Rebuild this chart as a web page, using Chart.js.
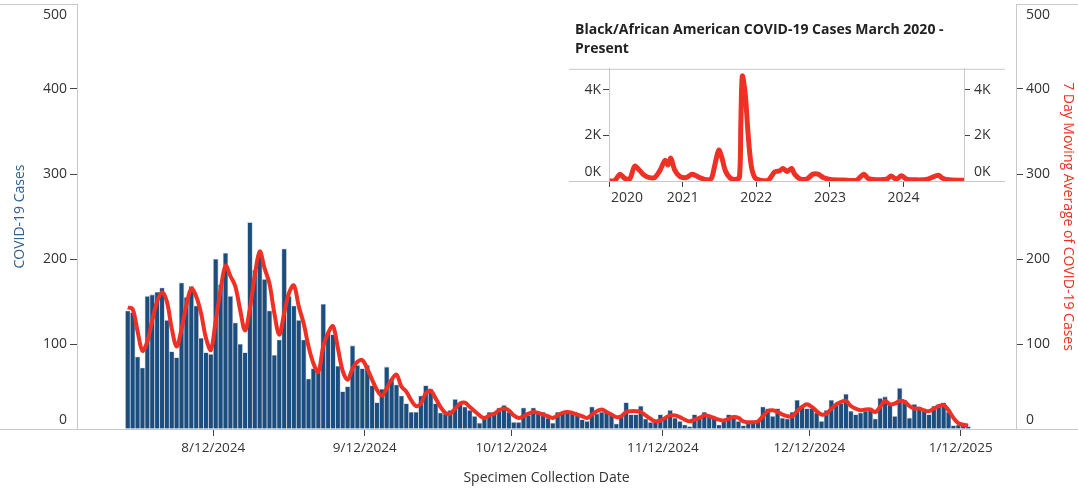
<!DOCTYPE html>
<html>
<head>
<meta charset="utf-8">
<script src="https://cdn.jsdelivr.net/npm/chart.js@4.4.1/dist/chart.umd.min.js"></script>
<style>
  body { margin: 0; background: #fff; }
  #wrap { position: relative; width: 1078px; height: 489px; overflow: hidden; }
  #mainChart { position: absolute; left: 0; top: 0; }
  #insetChart { position: absolute; left: 565px; top: 14px; }
</style>
</head>
<body>
<div id="wrap">
  <canvas id="mainChart" width="1078" height="489"></canvas>
  <canvas id="insetChart" width="445" height="200"></canvas>
</div>
<script>
// ---------- DATA ----------

// first bar = 7/25/2024, one value per day through 1/13/2025
const firstDay = '7/25/2024';
const tickDates = ['8/12/2024', '9/12/2024', '10/12/2024', '11/12/2024', '12/12/2024', '1/12/2025'];

const dailyCases = [139, 137, 85, 72, 156, 158, 161, 166, 128, 91,
  84, 172, 155, 168, 145, 107, 90, 88, 200, 170,
  207, 156, 125, 100, 90, 243, 187, 203, 176, 139,
  87, 105, 212, 156, 145, 128, 105, 59, 71, 67,
  147, 113, 111, 74, 44, 50, 98, 75, 71, 75,
  51, 31, 47, 73, 58, 52, 39, 30, 20, 20,
  39, 51, 47, 30, 19, 18, 22, 35, 30, 26,
  22, 15, 7, 15, 20, 20, 25, 28, 20, 8,
  8, 25, 16, 25, 20, 20, 13, 7, 20, 20,
  20, 18, 16, 11, 9, 26, 18, 20, 20, 18,
  6, 16, 31, 17, 17, 27, 12, 8, 11, 17,
  13, 22, 13, 9, 5, 3, 17, 13, 20, 15,
  13, 5, 9, 17, 13, 9, 4, 9, 9, 9,
  26, 24, 15, 24, 13, 12, 20, 34, 26, 24,
  24, 19, 9, 22, 34, 28, 30, 41, 21, 17,
  19, 21, 23, 12, 36, 38, 30, 15, 48, 34,
  13, 29, 26, 21, 17, 27, 29, 31, 20, 4,
  5, 5, 3];

const movingAvg = [143, 141, 115, 92, 103, 128, 150, 161, 150, 118,
  97, 118, 146, 165, 156, 136, 107, 93, 128, 164,
  192, 180, 168, 140, 116, 142, 181, 209, 189, 171,
  136, 111, 136, 160, 169, 144, 124, 97, 77, 67,
  97, 113, 121, 95, 68, 58, 71, 79, 81, 71,
  58, 46, 39, 48, 58, 64, 50, 44, 34, 27,
  30, 42, 45, 36, 26, 19, 18, 24, 30, 31,
  26, 21, 16, 13, 16, 18, 22, 24, 22, 16,
  13, 15, 18, 20, 19, 17, 15, 13, 16, 19,
  20, 19, 17, 15, 13, 17, 21, 23, 20, 17,
  14, 15, 20, 21, 21, 20, 16, 12, 9, 10,
  13, 16, 16, 14, 11, 9, 11, 13, 16, 15,
  13, 11, 10, 12, 14, 13, 9, 8, 8, 9,
  15, 21, 22, 20, 17, 15, 15, 21, 26, 29,
  26, 21, 17, 18, 24, 29, 32, 33, 27, 24,
  22, 23, 23, 20, 26, 33, 29, 30, 33, 32,
  27, 24, 24, 22, 21, 24, 27, 28, 22, 13,
  7, 5, 4];

const yTicks = [0, 100, 200, 300, 400, 500];

// inset: Black/African American cases since March 2020 (position in years, cases)
const insetYears = [2020.01, 2020.08, 2020.15, 2020.21, 2020.28, 2020.35, 2020.42, 2020.48, 2020.55, 2020.62,
  2020.69, 2020.76, 2020.80, 2020.84, 2020.89, 2020.96, 2021.05, 2021.13, 2021.23, 2021.32,
  2021.39, 2021.43, 2021.49, 2021.53, 2021.58, 2021.64, 2021.71, 2021.77, 2021.79, 2021.81,
  2021.85, 2021.89, 2021.93, 2021.98, 2022.05, 2022.16, 2022.25, 2022.32, 2022.36, 2022.42,
  2022.48, 2022.52, 2022.59, 2022.68, 2022.77, 2022.84, 2022.91, 2023.00, 2023.18, 2023.36,
  2023.46, 2023.52, 2023.63, 2023.77, 2023.83, 2023.90, 2023.97, 2024.04, 2024.17, 2024.31,
  2024.47, 2024.53, 2024.62, 2024.82];
const insetCases = [0, 30, 300, 120, 80, 650, 450, 250, 150, 150,
  450, 900, 700, 1000, 500, 200, 150, 300, 150, 60,
  120, 600, 1350, 1050, 450, 150, 70, 150, 2500, 4600,
  3800, 2000, 700, 150, 40, 30, 400, 450, 550, 420,
  550, 300, 100, 80, 300, 300, 150, 70, 40, 40,
  300, 110, 60, 80, 220, 80, 230, 80, 50, 70,
  250, 120, 50, 30];
const insetYearTicks = [2020, 2021, 2022, 2023, 2024];
const insetCaseTicks = [0, 2000, 4000];

// ---------- HELPERS ----------
Chart.defaults.font.family = "'Open Sans', sans-serif";
Chart.defaults.font.size = 14;
Chart.defaults.color = '#333';

const dayMs = 86400000;
function toUTC(s) {
  const [m, d, y] = s.split('/').map(Number);
  return Date.UTC(y, m - 1, d);
}
const tickDays = tickDates.map(s => Math.round((toUTC(s) - toUTC(firstDay)) / dayMs));

// lines that run past the plot area (baseline, top edge)
const frameLines = {
  id: 'frameLines',
  afterDraw(chart, args, opts) {
    const {ctx, chartArea: a, width} = chart;
    const x0 = opts.from ?? 0, x1 = opts.to ?? width;
    ctx.save();
    ctx.strokeStyle = '#c8c8c8';
    ctx.lineWidth = 1;
    ctx.beginPath();
    ctx.moveTo(x0, a.bottom + 0.5); ctx.lineTo(x1, a.bottom + 0.5);
    if (opts.fullTop) {
      ctx.moveTo(x0, a.top + 0.5); ctx.lineTo(x1, a.top + 0.5);
    } else {
      ctx.moveTo(x0, a.top + 0.5); ctx.lineTo(a.left, a.top + 0.5);
      ctx.moveTo(a.right, a.top + 0.5); ctx.lineTo(x1, a.top + 0.5);
    }
    ctx.stroke();
    ctx.restore();
  }
};

// keep end labels inside the frame, like the original
const nudgeLabels = {
  id: 'nudgeLabels',
  beforeDraw(chart, args, opts) {
    const shift = opts.shift || {};
    Object.keys(shift).forEach(id => {
      const scale = chart.scales[id];
      if (!scale) return;
      scale.getLabelItems().forEach(item => {
        const d = shift[id][item.label];
        if (d) {
          item.options.translation[0] += d[0];
          item.options.translation[1] += d[1];
        }
      });
    });
  }
};

const tickGrid = { drawOnChartArea: false, drawTicks: true, tickLength: 7, tickColor: '#444' };

// ---------- MAIN CHART ----------
const ctxMain = document.getElementById('mainChart');

new Chart(ctxMain, {
  type: 'bar',
  data: {
    datasets: [
      {
        type: 'line',
        label: '7 Day Moving Average of COVID-19 Cases',
        data: movingAvg.map((v, i) => ({x: i + 0.5, y: v})),
        yAxisID: 'y2',
        borderColor: '#ee3124',
        borderWidth: 4,
        pointRadius: 0,
        tension: 0.35,
        order: 0
      },
      {
        type: 'bar',
        label: 'COVID-19 Cases',
        data: dailyCases.map((v, i) => ({x: i + 0.5, y: v})),
        yAxisID: 'y',
        backgroundColor: '#1b4d7e',
        borderColor: '#c4ccd5',
        borderWidth: 0.8,
        barPercentage: 1,
        categoryPercentage: 1,
        order: 1
      }
    ]
  },
  options: {
    responsive: false,
    animation: false,
    events: [],
    layout: { padding: { top: 4 } },
    plugins: {
      legend: { display: false },
      tooltip: { enabled: false },
      frameLines: {},
      nudgeLabels: { shift: { y: { '500': [0, 11], '0': [0, -9] }, y2: { '500': [0, 11], '0': [0, -9] } } }
    },
    scales: {
      x: {
        type: 'linear',
        min: -9.9,
        max: 182.3,
        offset: false,
        afterBuildTicks: s => { s.ticks = tickDays.map(v => ({value: v})); },
        afterFit: s => { s.height = 60; },
        ticks: {
          callback: (v, i) => tickDates[i],
          autoSkip: false,
          maxRotation: 0,
          padding: 4,
          font: { size: 13.5 }
        },
        grid: Object.assign({ offset: false }, tickGrid),
        border: { display: false },
        title: { display: true, text: 'Specimen Collection Date', padding: { top: 0, bottom: 3 }, font: { size: 14 } }
      },
      y: {
        position: 'left',
        min: 0,
        max: 500,
        afterBuildTicks: s => { s.ticks = yTicks.map(v => ({value: v})); },
        afterFit: s => { s.width = 77; s.paddingTop = 0; s.paddingBottom = 0; },
        ticks: { padding: 3, font: { size: 14 } },
        grid: tickGrid,
        border: { display: true, color: '#c8c8c8' },
        title: { display: true, text: 'COVID-19 Cases', color: '#2f6196', padding: { top: 12, bottom: 0 }, font: { size: 14 } }
      },
      y2: {
        position: 'right',
        min: 0,
        max: 500,
        afterBuildTicks: s => { s.ticks = yTicks.map(v => ({value: v})); },
        afterFit: s => { s.width = 62; s.paddingTop = 0; s.paddingBottom = 0; },
        ticks: { padding: 3, font: { size: 14 } },
        grid: tickGrid,
        border: { display: true, color: '#c8c8c8' },
        title: { display: true, text: '7 Day Moving Average of COVID-19 Cases', color: '#ee3124', padding: { top: 2, bottom: 0 }, font: { size: 14 } }
      }
    }
  },
  plugins: [frameLines, nudgeLabels]
});

// ---------- INSET CHART ----------
const ctxInset = document.getElementById('insetChart');

new Chart(ctxInset, {
  type: 'line',
  data: {
    datasets: [{
      label: 'Black/African American COVID-19 Cases',
      data: insetYears.map((x, i) => ({x: x, y: insetCases[i]})),
      borderColor: '#ee3124',
      borderWidth: 5,
      pointRadius: 0,
      tension: 0.3,
      yAxisID: 'y'
    }]
  },
  options: {
    responsive: false,
    animation: false,
    events: [],
    layout: { padding: { left: 10, top: 7, right: 0, bottom: 0 } },
    plugins: {
      legend: { display: false },
      tooltip: { enabled: false },
      title: {
        display: true,
        text: ['Black/African American COVID-19 Cases March 2020 -', 'Present'],
        align: 'start',
        color: '#222',
        font: { size: 14, weight: 'bold', lineHeight: 1.35 },
        padding: { top: 0, bottom: 10 }
      },
      frameLines: { from: 4, to: 440, fullTop: true },
      nudgeLabels: { shift: { x: { '2020': [18, 0] }, y: { '0K': [0, -9] }, y2: { '0K': [0, -9] } } }
    },
    scales: {
      x: {
        type: 'linear',
        min: 2020,
        max: 2024.82,
        afterBuildTicks: s => { s.ticks = insetYearTicks.map(v => ({value: v})); },
        afterFit: s => { s.height = 33; },
        ticks: { callback: v => String(v), autoSkip: false, maxRotation: 0, padding: 3, font: { size: 14 } },
        grid: { drawOnChartArea: false, drawTicks: true, tickLength: 6, tickColor: '#444' },
        border: { display: false }
      },
      y: {
        position: 'left',
        min: 0,
        max: 4920,
        afterBuildTicks: s => { s.ticks = insetCaseTicks.map(v => ({value: v})); },
        afterFit: s => { s.width = 34; s.paddingTop = 0; s.paddingBottom = 0; },
        ticks: { callback: v => (v / 1000) + 'K', padding: 2, font: { size: 14 } },
        grid: { drawOnChartArea: false, drawTicks: true, tickLength: 6, tickColor: '#444' },
        border: { display: true, color: '#c8c8c8' }
      },
      y2: {
        position: 'right',
        min: 0,
        max: 4920,
        afterBuildTicks: s => { s.ticks = insetCaseTicks.map(v => ({value: v})); },
        afterFit: s => { s.width = 46; s.paddingTop = 0; s.paddingBottom = 0; },
        ticks: { callback: v => (v / 1000) + 'K', padding: 4, font: { size: 14 } },
        grid: { drawOnChartArea: false, drawTicks: true, tickLength: 6, tickColor: '#444' },
        border: { display: true, color: '#c8c8c8' }
      }
    }
  },
  plugins: [frameLines, nudgeLabels]
});
</script>
</body>
</html>
